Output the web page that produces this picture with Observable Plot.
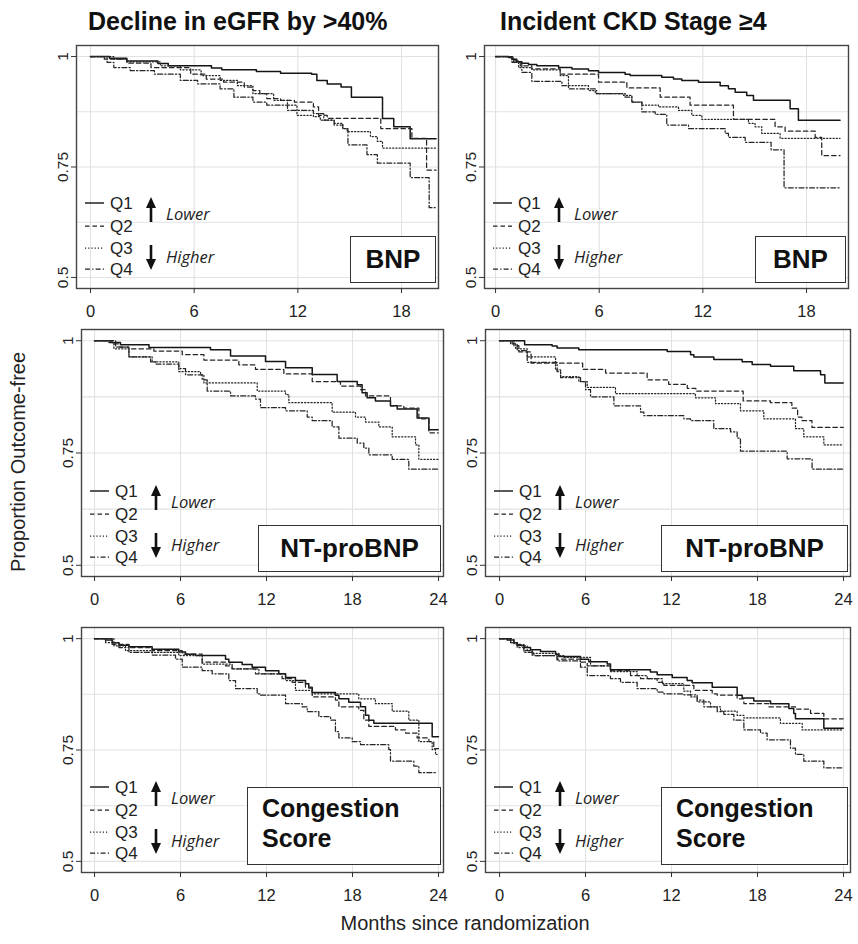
<!DOCTYPE html>
<html><head><meta charset="utf-8">
<script src="https://cdn.jsdelivr.net/npm/d3@7"></script>
<script src="https://cdn.jsdelivr.net/npm/@observablehq/plot@0.6"></script>
<style>
body{margin:0;background:#fff;font-family:"Liberation Sans",Arial,sans-serif;}
#fig{position:relative;width:858px;height:944px;overflow:hidden;background:#fff;}
.title{position:absolute;font-weight:bold;font-size:25px;color:#111;white-space:nowrap;line-height:1;}
.box{position:absolute;border:1.5px solid #333;background:#fff;font-weight:bold;font-size:26px;color:#111;box-sizing:border-box;line-height:1.2;}
.axtitle{position:absolute;font-size:20px;color:#222;white-space:nowrap;line-height:1;}
</style></head><body><div id="fig"></div>
<script>
// ---------- data (months since randomization, proportion outcome-free) ----------
const columnTitles = ["Decline in eGFR by >40%", "Incident CKD Stage \u22654"];
const markerNames = ["BNP", "NT-proBNP", "Congestion Score"];
const quartiles = ["Q1", "Q2", "Q3", "Q4"];
const directionLabels = ["Lower", "Higher"];
const xTicksShort = [0, 6, 12, 18];
const xTicksLong = [0, 6, 12, 18, 24];
const yTicks = [0.5, 0.75, 1];
const yTickLabels = ["0.5", "0.75", "1"];
const yGrid = [0.5, 0.625, 0.75, 0.875, 1];
const xTitle = "Months since randomization";
const yTitle = "Proportion Outcome-free";

// Decline in eGFR >40% — BNP
const eGFR_BNP_Q1 = [[0,1],[1.1,0.996],[2.1,0.990],[3.9,0.984],[4.5,0.979],[7.0,0.974],[7.6,0.970],[9.6,0.966],[11.0,0.962],[12.8,0.960],[13.1,0.946],[13.7,0.938],[14.5,0.931],[15.1,0.908],[16.9,0.860],[17.55,0.841],[18.5,0.814],[20.0,0.814]];
const eGFR_BNP_Q2 = [[0,1],[0.8,0.994],[2.1,0.985],[3.5,0.975],[5.8,0.960],[6.7,0.949],[7.7,0.942],[8.9,0.931],[9.4,0.923],[9.8,0.916],[10.2,0.905],[11.0,0.901],[11.8,0.897],[12.9,0.886],[13.2,0.867],[13.7,0.860],[16.8,0.837],[18.6,0.815],[19.45,0.743],[20.0,0.743]];
const eGFR_BNP_Q3 = [[0,1],[1.35,0.994],[2.1,0.988],[4.05,0.979],[5.2,0.970],[6.4,0.957],[7.5,0.946],[8.5,0.934],[9.4,0.916],[10.6,0.901],[11.4,0.890],[11.95,0.867],[12.9,0.864],[13.3,0.856],[14.1,0.849],[14.6,0.837],[14.85,0.830],[16.2,0.819],[16.6,0.808],[16.9,0.793],[20.0,0.793]];
const eGFR_BNP_Q4 = [[0,1],[0.96,0.987],[1.35,0.975],[2.3,0.968],[3.7,0.960],[5.2,0.946],[6.2,0.938],[7.5,0.927],[8.3,0.908],[9.4,0.897],[10.2,0.890],[11.4,0.878],[12.9,0.871],[13.5,0.856],[14.1,0.845],[14.6,0.837],[14.9,0.800],[16.0,0.778],[16.6,0.759],[18.5,0.726],[19.6,0.658],[19.95,0.658]];

// Incident CKD stage >=4 — BNP
const CKD_BNP_Q1 = [[0,1],[0.75,0.998],[0.95,0.994],[1.23,0.988],[1.52,0.985],[1.91,0.982],[2.39,0.979],[3.65,0.975],[4.42,0.972],[5.38,0.968],[5.96,0.964],[7.5,0.960],[7.79,0.957],[9.62,0.953],[10.3,0.949],[10.78,0.946],[11.75,0.942],[13.0,0.934],[13.48,0.927],[13.87,0.919],[14.54,0.912],[14.93,0.901],[17.05,0.882],[17.53,0.856],[19.94,0.856]];
const CKD_BNP_Q2 = [[0,1],[0.95,0.990],[1.43,0.979],[2.1,0.972],[3.74,0.960],[5.96,0.942],[7.6,0.929],[9.53,0.908],[11.26,0.890],[13.77,0.858],[16.18,0.841],[16.76,0.831],[18.5,0.817],[18.88,0.776],[19.94,0.776]];
const CKD_BNP_Q3 = [[0,1],[1.04,0.987],[1.33,0.975],[2.1,0.970],[3.74,0.957],[4.22,0.934],[5.38,0.923],[5.86,0.916],[7.41,0.912],[7.89,0.897],[8.47,0.890],[9.43,0.886],[10.59,0.878],[11.36,0.867],[11.94,0.858],[14.64,0.849],[15.02,0.841],[15.41,0.826],[16.47,0.815],[19.94,0.815]];
const CKD_BNP_Q4 = [[0,1],[0.95,0.987],[1.52,0.964],[2.1,0.944],[3.84,0.934],[4.22,0.927],[5.77,0.916],[7.5,0.908],[7.89,0.897],[8.47,0.875],[9.24,0.869],[9.91,0.845],[11.17,0.837],[13.29,0.826],[13.48,0.817],[14.45,0.806],[15.95,0.789],[16.7,0.703],[19.94,0.703]];

// Decline in eGFR >40% — NT-proBNP
const eGFR_NT_Q1 = [[0,1],[1.12,0.996],[1.81,0.991],[3.8,0.985],[8.09,0.980],[9.49,0.966],[11.93,0.954],[13.33,0.940],[15.19,0.925],[16.93,0.909],[18.33,0.902],[18.67,0.884],[19.02,0.873],[19.6,0.866],[20.65,0.855],[21.12,0.848],[22.51,0.828],[23.33,0.802],[23.98,0.802]];
const eGFR_NT_Q2 = [[0,1],[1.23,0.993],[1.7,0.986],[2.4,0.982],[4.14,0.977],[6.12,0.969],[7.63,0.957],[10.07,0.946],[11.23,0.936],[13.21,0.926],[15.19,0.909],[17.16,0.899],[18.56,0.891],[18.91,0.877],[20.65,0.855],[21.58,0.850],[22.63,0.826],[23.33,0.795],[23.98,0.795]];
const eGFR_NT_Q3 = [[0,1],[1.0,0.996],[1.35,0.982],[2.4,0.964],[4.02,0.953],[5.88,0.931],[7.4,0.924],[7.63,0.906],[11.35,0.888],[13.33,0.880],[13.56,0.862],[16.58,0.841],[18.21,0.830],[18.91,0.819],[19.84,0.808],[20.77,0.786],[22.4,0.768],[22.63,0.736],[23.98,0.736]];
const eGFR_NT_Q4 = [[0,1],[1.47,0.986],[2.4,0.964],[3.91,0.953],[4.26,0.948],[5.88,0.938],[6.35,0.924],[7.51,0.913],[7.86,0.888],[9.49,0.877],[11.23,0.870],[11.58,0.851],[13.33,0.844],[14.84,0.830],[15.19,0.822],[16.58,0.808],[17.05,0.783],[18.33,0.772],[18.79,0.761],[19.14,0.746],[20.77,0.736],[21.93,0.714],[23.98,0.714]];

// Incident CKD stage >=4 — NT-proBNP
const CKD_NT_Q1 = [[0,1],[1.75,0.991],[3.67,0.988],[4.02,0.984],[5.53,0.980],[11.7,0.976],[13.33,0.969],[13.56,0.964],[14.95,0.958],[16.93,0.953],[17.63,0.947],[18.91,0.943],[20.53,0.933],[22.4,0.924],[22.7,0.906],[23.98,0.906]];
const CKD_NT_Q2 = [[0,1],[1.0,0.989],[1.35,0.975],[2.2,0.950],[5.8,0.936],[7.4,0.928],[10.3,0.913],[11.8,0.903],[13.1,0.894],[13.7,0.888],[17.0,0.866],[18.9,0.862],[20.4,0.850],[20.8,0.830],[21.1,0.822],[21.8,0.807],[23.98,0.807]];
const CKD_NT_Q3 = [[0,1],[0.77,0.993],[1.12,0.982],[1.93,0.964],[3.91,0.935],[4.26,0.920],[5.53,0.909],[6.12,0.896],[8.09,0.882],[13.67,0.873],[15.07,0.860],[16.81,0.844],[18.44,0.826],[20.65,0.804],[21.23,0.786],[22.63,0.768],[23.98,0.768]];
const CKD_NT_Q4 = [[0,1],[0.88,0.993],[1.23,0.978],[1.93,0.952],[4.02,0.931],[4.26,0.918],[5.65,0.909],[6.0,0.891],[6.35,0.875],[7.98,0.855],[9.84,0.841],[10.07,0.833],[12.86,0.826],[13.33,0.822],[14.95,0.804],[16.12,0.797],[16.58,0.783],[16.81,0.754],[20.07,0.737],[21.81,0.714],[23.98,0.714]];

// Decline in eGFR >40% — Congestion score
const eGFR_Cong_Q1 = [[0,1],[0.77,0.997],[1.23,0.991],[1.7,0.985],[2.4,0.982],[4.02,0.976],[5.88,0.970],[6.35,0.965],[7.05,0.962],[9.14,0.954],[9.37,0.947],[10.3,0.942],[11.0,0.936],[11.93,0.928],[12.86,0.921],[13.33,0.913],[14.02,0.906],[14.72,0.899],[14.95,0.889],[15.19,0.879],[16.81,0.873],[17.05,0.865],[17.74,0.857],[18.56,0.847],[18.91,0.828],[19.14,0.817],[19.49,0.810],[23.56,0.780],[24.0,0.780]];
const eGFR_Cong_Q2 = [[0,1],[1.23,0.987],[2.4,0.980],[4.02,0.973],[6.12,0.965],[7.51,0.947],[9.14,0.939],[9.6,0.932],[11.23,0.921],[13.09,0.910],[13.79,0.902],[14.72,0.891],[15.19,0.869],[16.81,0.862],[17.05,0.847],[18.44,0.839],[18.79,0.817],[19.14,0.803],[21.0,0.795],[21.7,0.788],[22.51,0.777],[23.33,0.769],[23.67,0.753],[24.0,0.753]];
const eGFR_Cong_Q3 = [[0,1],[1.35,0.984],[2.16,0.973],[4.02,0.969],[5.88,0.962],[7.51,0.943],[9.6,0.932],[11.47,0.921],[13.33,0.906],[14.02,0.884],[15.19,0.876],[18.44,0.865],[19.6,0.854],[20.77,0.837],[21.93,0.817],[22.63,0.769],[23.56,0.751],[23.79,0.740],[23.9,0.740]];
const eGFR_Cong_Q4 = [[0,1],[0.77,0.991],[1.7,0.980],[2.4,0.969],[4.02,0.963],[5.65,0.954],[6.12,0.936],[7.51,0.928],[8.21,0.921],[9.37,0.906],[9.84,0.888],[11.35,0.876],[11.58,0.873],[13.33,0.854],[14.49,0.847],[14.84,0.836],[15.65,0.825],[16.47,0.817],[16.81,0.791],[17.05,0.777],[17.98,0.769],[18.56,0.762],[20.53,0.751],[20.65,0.725],[22.28,0.714],[22.63,0.699],[23.9,0.699]];

// Incident CKD stage >=4 — Congestion score
const CKD_Cong_Q1 = [[0,1],[0.53,0.997],[1.0,0.991],[1.23,0.985],[1.7,0.980],[2.16,0.975],[2.86,0.971],[3.91,0.965],[4.14,0.960],[5.65,0.954],[6.23,0.948],[7.51,0.943],[7.74,0.930],[10.53,0.925],[11.0,0.919],[12.05,0.913],[13.09,0.906],[13.44,0.901],[14.84,0.891],[16.58,0.873],[16.93,0.867],[17.74,0.860],[18.91,0.854],[20.19,0.843],[20.53,0.832],[20.65,0.820],[22.63,0.799],[23.98,0.799]];
const CKD_Cong_Q2 = [[0,1],[1.0,0.987],[1.7,0.973],[2.28,0.962],[4.02,0.954],[5.65,0.947],[6.12,0.939],[7.74,0.928],[9.14,0.917],[9.84,0.910],[11.0,0.902],[11.47,0.895],[13.56,0.884],[14.84,0.876],[15.19,0.873],[16.58,0.865],[17.05,0.854],[18.79,0.847],[20.65,0.842],[21.7,0.832],[22.63,0.820],[23.98,0.820]];
const CKD_Cong_Q3 = [[0,1],[0.77,0.991],[1.23,0.984],[1.93,0.973],[2.28,0.967],[4.14,0.962],[4.49,0.958],[6.35,0.939],[7.74,0.926],[9.6,0.917],[10.3,0.910],[11.35,0.899],[12.86,0.882],[13.33,0.869],[13.79,0.858],[14.72,0.847],[15.42,0.837],[16.58,0.828],[17.05,0.822],[19.6,0.810],[21.12,0.795],[23.98,0.795]];
const CKD_Cong_Q4 = [[0,1],[0.77,0.991],[1.23,0.980],[1.7,0.969],[2.4,0.962],[4.02,0.950],[5.65,0.936],[6.12,0.917],[7.74,0.910],[8.44,0.902],[9.6,0.888],[11.0,0.880],[11.47,0.876],[12.86,0.874],[13.79,0.862],[14.26,0.847],[15.19,0.836],[15.65,0.830],[16.35,0.817],[17.05,0.795],[18.21,0.788],[18.67,0.773],[20.3,0.754],[20.65,0.740],[21.23,0.725],[22.63,0.710],[23.98,0.710]];

// ---------- layout / styles ----------
const dashes = [null, "4.5,3", "1.2,2", "5,2.2,1.2,2.2"];
const strokeW = [1.5, 1.25, 1.25, 1.25];

const panels = [
  {series:[eGFR_BNP_Q1,eGFR_BNP_Q2,eGFR_BNP_Q3,eGFR_BNP_Q4], marker:0, l:76, r:438, t:45, b:288, xd:[-0.81,20.14], ticks:xTicksShort, box:{w:86,h:47,db:5,center:true}},
  {series:[CKD_BNP_Q1,CKD_BNP_Q2,CKD_BNP_Q3,CKD_BNP_Q4], marker:0, l:484, r:848, t:45, b:288, xd:[-0.64,20.43], ticks:xTicksShort, box:{w:91,h:47,db:5,center:true}},
  {series:[eGFR_NT_Q1,eGFR_NT_Q2,eGFR_NT_Q3,eGFR_NT_Q4], marker:1, l:81, r:443, t:329, b:576, xd:[-0.91,24.35], ticks:xTicksLong, box:{w:183,h:47,db:4,center:true}},
  {series:[CKD_NT_Q1,CKD_NT_Q2,CKD_NT_Q3,CKD_NT_Q4], marker:1, l:485, r:850, t:329, b:576, xd:[-0.98,24.49], ticks:xTicksLong, box:{w:187,h:47,db:4,center:true}},
  {series:[eGFR_Cong_Q1,eGFR_Cong_Q2,eGFR_Cong_Q3,eGFR_Cong_Q4], marker:2, l:81, r:443, t:627, b:872, xd:[-0.91,24.35], ticks:xTicksLong, box:{w:194,h:78,db:7,center:false}},
  {series:[CKD_Cong_Q1,CKD_Cong_Q2,CKD_Cong_Q3,CKD_Cong_Q4], marker:2, l:485, r:850, t:627, b:872, xd:[-0.98,24.49], ticks:xTicksLong, box:{w:187,h:78,db:7,center:false}}
];

const fig = document.getElementById("fig");
const ML = 60, MT = 10, MR = 6, MB = 40;

panels.forEach(p => {
  const chart = Plot.plot({
    width: (p.r - p.l) + ML + MR,
    height: (p.b - p.t) + MT + MB,
    marginLeft: ML, marginTop: MT, marginRight: MR, marginBottom: MB,
    style: {background: "transparent", fontFamily: "'Liberation Sans', Arial, sans-serif", color: "#222", overflow: "visible"},
    x: {domain: p.xd},
    y: {domain: [0.475, 1.025]},
    marks: [
      Plot.gridX(p.ticks, {stroke: "#e2e2e2", strokeOpacity: 1, strokeWidth: 1.1}),
      Plot.gridY(yGrid, {stroke: "#e2e2e2", strokeOpacity: 1, strokeWidth: 1.1}),
      ...p.series.map((s, i) => Plot.line(s.map(([t, v]) => ({t, v})), {
        x: "t", y: "v", curve: "step-after", stroke: i === 0 ? "#151515" : "#262626",
        strokeWidth: strokeW[i], strokeDasharray: dashes[i] || undefined
      })),
      Plot.frame({stroke: "#444", strokeWidth: 1.4}),
      Plot.axisX(p.ticks, {tickSize: 5, tickPadding: 12, fontSize: 16.5, stroke: "#333", fill: "#222", label: null}),
      Plot.axisY(yTicks, {tickSize: 5, tickPadding: 4, tickRotate: -90, fontSize: 15.5, stroke: "#333", fill: "#222", label: null,
        tickFormat: d => yTickLabels[yTicks.indexOf(d)]})
    ]
  });
  chart.style.position = "absolute";
  chart.style.left = (p.l - ML) + "px";
  chart.style.top = (p.t - MT) + "px";
  chart.style.maxWidth = "none";
  fig.appendChild(chart);

  // marker box
  const box = document.createElement("div");
  box.className = "box";
  box.style.left = (p.r - 2 - p.box.w) + "px";
  box.style.top = (p.b - p.box.db - p.box.h) + "px";
  box.style.width = p.box.w + "px";
  box.style.height = p.box.h + "px";
  if (p.box.center) {
    box.style.display = "flex"; box.style.alignItems = "center"; box.style.justifyContent = "center";
    box.textContent = markerNames[p.marker];
  } else {
    box.style.padding = "5px 0 0 14px";
    box.style.fontSize = "25px";
    box.innerHTML = markerNames[p.marker].split(" ").join("<br>");
  }
  fig.appendChild(box);
});

// legends (drawn on an overlay svg)
const ov = d3.select(fig).append("svg").attr("width", 858).attr("height", 944)
  .style("position", "absolute").style("left", 0).style("top", 0).style("pointer-events", "none");
const legY = [-85, -62, -40, -19];
panels.forEach(p => {
  const g = ov.append("g").attr("transform", `translate(${p.l},${p.b})`);
  quartiles.forEach((q, i) => {
    g.append("line").attr("x1", 9).attr("x2", 28).attr("y1", legY[i]).attr("y2", legY[i])
      .attr("stroke", "#222").attr("stroke-width", strokeW[i]).attr("stroke-dasharray", dashes[i]);
    g.append("text").attr("x", 34).attr("y", legY[i]).attr("dy", "0.36em")
      .attr("font-family", "'Liberation Sans', Arial, sans-serif").attr("font-size", 17).attr("fill", "#222").text(q);
  });
  const ax = 75;
  g.append("line").attr("x1", ax).attr("x2", ax).attr("y1", -66).attr("y2", -82).attr("stroke", "#111").attr("stroke-width", 2.6);
  g.append("path").attr("d", `M${ax - 5},-80L${ax + 5},-80L${ax},-91Z`).attr("fill", "#111");
  g.append("line").attr("x1", ax).attr("x2", ax).attr("y1", -43).attr("y2", -27).attr("stroke", "#111").attr("stroke-width", 2.6);
  g.append("path").attr("d", `M${ax - 5},-29L${ax + 5},-29L${ax},-18Z`).attr("fill", "#111");
  g.append("text").attr("x", ax + 15).attr("y", -68).attr("font-family", "'Open Sans', sans-serif")
    .attr("font-style", "italic").attr("font-size", 16.5).attr("fill", "#222").text(directionLabels[0]);
  g.append("text").attr("x", ax + 15).attr("y", -25).attr("font-family", "'Open Sans', sans-serif")
    .attr("font-style", "italic").attr("font-size", 16.5).attr("fill", "#222").text(directionLabels[1]);
});

// titles
function addText(cls, txt, css) {
  const d = document.createElement("div");
  d.className = cls; d.textContent = txt;
  Object.assign(d.style, css);
  fig.appendChild(d);
  return d;
}
addText("title", columnTitles[0], {left: "88px", top: "9px"});
addText("title", columnTitles[1], {left: "500px", top: "9px"});
addText("axtitle", xTitle, {left: "465px", top: "913px", transform: "translateX(-50%)"});
addText("axtitle", yTitle, {left: "18px", top: "462px", transform: "translate(-50%,-50%) rotate(-90deg)"});
</script>
</body></html>
